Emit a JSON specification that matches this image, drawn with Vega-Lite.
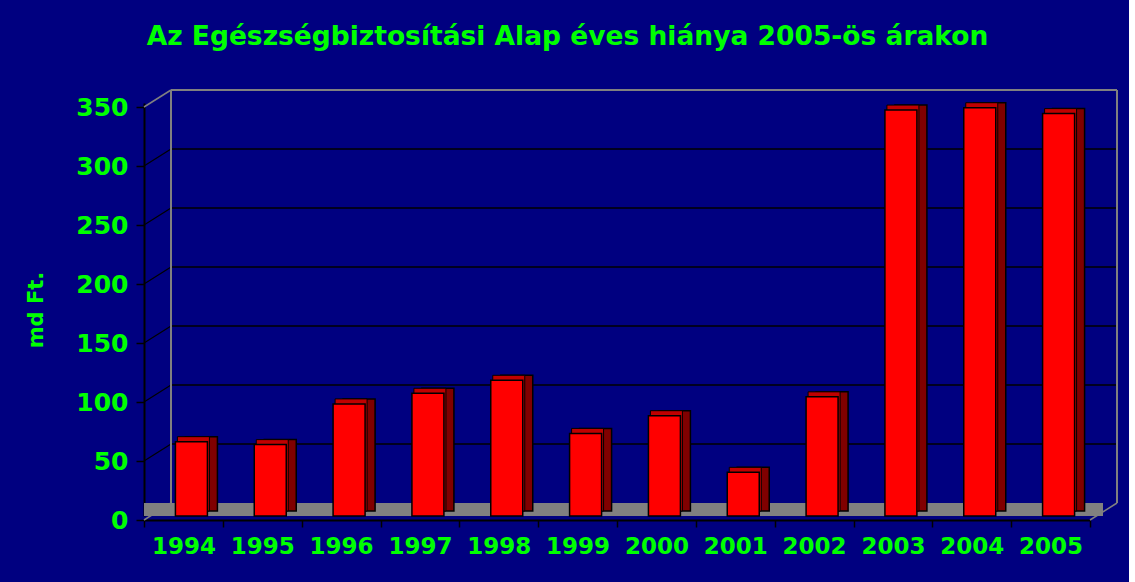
{
  "$schema": "https://vega.github.io/schema/vega-lite/v6.json",
  "width": 946,
  "height": 413,
  "autosize": {"type": "none"},
  "padding": {"left": 144, "top": 103, "right": 39, "bottom": 66},
  "background": "#000080",
  "config": {
    "view": {"stroke": null},
    "font": "DejaVu Sans",
    "axisX": {
      "title": null, "labelAngle": 0, "offset": 4, "tickBand": "extent",
      "domainColor": "#000000", "domainWidth": 2, "tickColor": "#000000", "tickWidth": 1.5, "tickSize": 7,
      "labelColor": "#00FF00", "labelFont": "DejaVu Sans", "labelFontWeight": "bold", "labelFontSize": 23, "labelPadding": 8
    },
    "axisY": {
      "grid": false, "tickOffset": 4, "tickCount": 7,
      "domainColor": "#000000", "domainWidth": 2, "tickColor": "#000000", "tickWidth": 1.5, "tickSize": 8,
      "labelColor": "#00FF00", "labelFont": "DejaVu Sans", "labelFontWeight": "bold", "labelFontSize": 25, "labelPadding": 8,
      "titleColor": "#00FF00", "titleFont": "DejaVu Sans", "titleFontWeight": "bold", "titleFontSize": 21, "titlePadding": 29
    }
  },
  "title": {
    "text": "Az Egészségbiztosítási Alap éves hiánya 2005-ös árakon",
    "color": "#00FF00",
    "font": "DejaVu Sans",
    "fontWeight": "bold",
    "fontSize": 26.5,
    "anchor": "middle",
    "dx": -49.5,
    "offset": 18,
    "baseline": "alphabetic"
  },
  "datasets": {
    "deficit": [
      {"year": "1994", "value": 63},
      {"year": "1995", "value": 60.5},
      {"year": "1996", "value": 95},
      {"year": "1997", "value": 104},
      {"year": "1998", "value": 115},
      {"year": "1999", "value": 70},
      {"year": "2000", "value": 85},
      {"year": "2001", "value": 37},
      {"year": "2002", "value": 101},
      {"year": "2003", "value": 344},
      {"year": "2004", "value": 346},
      {"year": "2005", "value": 341}
    ],
    "grid": [{"v": 50}, {"v": 100}, {"v": 150}, {"v": 200}, {"v": 250}, {"v": 300}],
    "edges": [{"v": 0}, {"v": 350}],
    "frameTop": [{"v": 350}],
    "one": [{"id": 1}]
  },
  "layer": [
    {
      "data": {"name": "grid"},
      "mark": {"type": "rule", "color": "#000000", "strokeWidth": 1.5, "xOffset": 27, "x2Offset": 27, "yOffset": -13},
      "encoding": {
        "x": {"datum": "1994", "type": "nominal", "bandPosition": 0, "title": null,
              "scale": {"domain": ["1994", "1995", "1996", "1997", "1998", "1999", "2000", "2001", "2002", "2003", "2004", "2005"], "paddingInner": 0, "paddingOuter": 0}},
        "x2": {"datum": "2005", "bandPosition": 1},
        "y": {"field": "v", "type": "quantitative", "title": "md Ft.", "scale": {"domain": [0, 350], "nice": false}}
      }
    },
    {
      "data": {"name": "grid"},
      "mark": {"type": "rule", "color": "#000000", "strokeWidth": 1.2, "yOffset": 4, "x2Offset": 27, "y2Offset": -13},
      "encoding": {
        "x": {"datum": "1994", "type": "nominal", "bandPosition": 0, "title": null},
        "x2": {"datum": "1994", "bandPosition": 0},
        "y": {"field": "v", "type": "quantitative", "title": "md Ft."},
        "y2": {"field": "v"}
      }
    },
    {
      "data": {"name": "edges"},
      "mark": {"type": "rule", "color": "#808080", "strokeWidth": 1.5, "yOffset": 4, "x2Offset": 27, "y2Offset": -13},
      "encoding": {
        "x": {"datum": "1994", "type": "nominal", "bandPosition": 0, "title": null},
        "x2": {"datum": "1994", "bandPosition": 0},
        "y": {"field": "v", "type": "quantitative", "title": "md Ft."},
        "y2": {"field": "v"}
      }
    },
    {
      "data": {"name": "frameTop"},
      "mark": {"type": "rule", "color": "#808080", "strokeWidth": 2, "xOffset": 27, "x2Offset": 27, "yOffset": -13},
      "encoding": {
        "x": {"datum": "1994", "type": "nominal", "bandPosition": 0, "title": null},
        "x2": {"datum": "2005", "bandPosition": 1},
        "y": {"field": "v", "type": "quantitative", "title": "md Ft."}
      }
    },
    {
      "data": {"name": "one"},
      "mark": {"type": "rule", "color": "#808080", "strokeWidth": 2, "xOffset": 27, "yOffset": -13, "y2Offset": -13},
      "encoding": {
        "x": {"datum": "1994", "type": "nominal", "bandPosition": 0, "title": null},
        "y": {"datum": 0, "type": "quantitative", "title": "md Ft."},
        "y2": {"datum": 350}
      }
    },
    {
      "data": {"name": "one"},
      "mark": {"type": "rule", "color": "#808080", "strokeWidth": 2, "xOffset": 27, "yOffset": -13, "y2Offset": -13},
      "encoding": {
        "x": {"datum": "2005", "type": "nominal", "bandPosition": 1, "title": null},
        "y": {"datum": 0, "type": "quantitative", "title": "md Ft."},
        "y2": {"datum": 350}
      }
    },
    {
      "data": {"name": "one"},
      "mark": {"type": "rule", "color": "#808080", "strokeWidth": 13, "xOffset": 13, "x2Offset": 13, "yOffset": -6.5},
      "encoding": {
        "y": {"datum": 0, "type": "quantitative", "title": "md Ft."}
      }
    },
    {
      "data": {"name": "one"},
      "mark": {"type": "rule", "color": "#808080", "strokeWidth": 1.5, "yOffset": 4, "x2Offset": 27, "y2Offset": -13},
      "encoding": {
        "x": {"datum": "2005", "type": "nominal", "bandPosition": 1, "title": null},
        "x2": {"datum": "2005", "bandPosition": 1},
        "y": {"datum": 0, "type": "quantitative", "title": "md Ft."},
        "y2": {"datum": 0}
      }
    },
    {
      "data": {"name": "deficit"},
      "mark": {"type": "bar", "width": 32, "xOffset": 18, "yOffset": -5, "y2Offset": -5, "color": "#800000", "stroke": "#000000", "strokeWidth": 1.5},
      "encoding": {
        "x": {"field": "year", "type": "nominal", "sort": null, "title": null},
        "y": {"field": "value", "type": "quantitative", "title": "md Ft."}
      }
    },
    {
      "data": {"name": "deficit"},
      "mark": {"type": "bar", "width": 32, "xOffset": 10, "yOffset": -5, "y2Offset": -5, "color": "#C00000", "stroke": "#000000", "strokeWidth": 1},
      "encoding": {
        "x": {"field": "year", "type": "nominal", "sort": null, "title": null},
        "y": {"field": "value", "type": "quantitative", "title": "md Ft."}
      }
    },
    {
      "data": {"name": "deficit"},
      "mark": {"type": "bar", "width": 32, "xOffset": 8, "color": "#FF0000", "stroke": "#000000", "strokeWidth": 1.5},
      "encoding": {
        "x": {"field": "year", "type": "nominal", "sort": null, "title": null},
        "y": {"field": "value", "type": "quantitative", "title": "md Ft."}
      }
    }
  ]
}
